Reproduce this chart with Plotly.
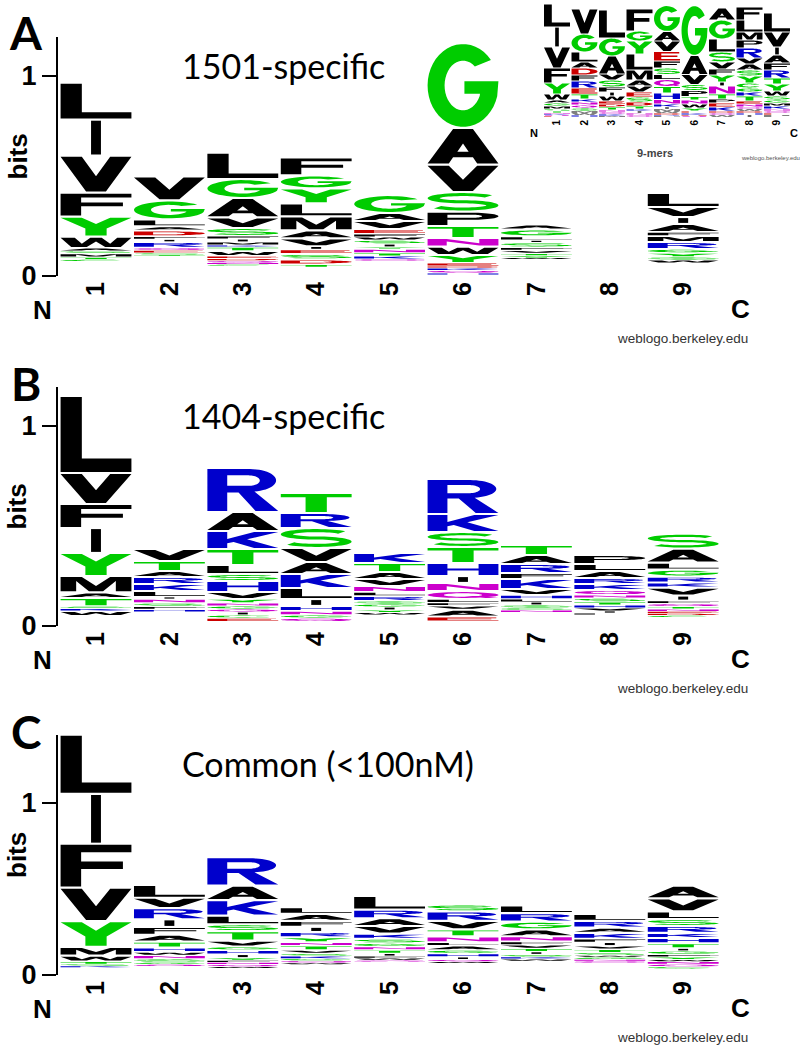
import numpy as np
import plotly.graph_objects as go

W, H = 800, 1046

# ---------------- data (letters listed top -> bottom, heights in bits) ----------------
columns = [1, 2, 3, 4, 5, 6, 7, 8, 9]

# A: 1501-specific
a_letters = ["LIVFYWASMTC", "VGLADFIRQEST", "LGAVSFIMKTWEDQNC", "FGYLMAVIESDT",
             "GAVEFWSIYNTKQ", "GAVSPTNWYEDKQH", "AGLISFVTYW", "", "LVIAFMRGYSW"]
a_bits = [
    [.185, .18, .185, .12, .10, .057, .015, .012, .02, .01, .01],
    [.12, .095, .035, .02, .03, .015, .012, .03, .012, .015, .008, .006],
    [.132, .095, .097, .053, .04, .015, .015, .015, .01, .02, .025, .012, .012, .01, .008, .008],
    [.09, .065, .075, .065, .07, .04, .04, .015, .022, .028, .025, .015],
    [.09, .04, .04, .025, .015, .015, .02, .015, .01, .02, .015, .015, .01],
    [.425, .183, .137, .098, .072, .06, .043, .042, .04, .015, .01, .012, .013, .01],
    [.025, .035, .02, .01, .025, .015, .015, .012, .01, .008],
    [],
    [.07, .05, .035, .04, .02, .03, .035, .02, .02, .015, .015],
]
a_base = [.073, .10, .05, .043, .075, .005, .083, 0, .065]

# B: 1404-specific
b_letters = ["LVFIYMATSKW", "VTARKLINSFH", "RAKTLSHVYNGQICE", "TRSVAKLIHNGQ",
             "KTAVNLRSGIYW", "RKSTHINQLFVAE", "TARFKVHLISGN", "PLARKQNSTHVIF",
             "SALGRKVIFQTNEDC"]
b_bits = [
    [.385, .155, .12, .125, .115, .082, .028, .042, .01, .013, .025],
    [.06, .05, .03, .035, .035, .03, .01, .02, .017, .015, .013],
    [.22, .095, .09, .08, .045, .035, .055, .035, .02, .015, .015, .015, .015, .015, .018],
    [.1, .075, .1, .07, .06, .07, .055, .035, .025, .02, .015, .018],
    [.05, .045, .035, .035, .03, .02, .025, .015, .015, .015, .012, .013],
    [.175, .09, .075, .08, .065, .035, .04, .04, .018, .015, .02, .035, .025],
    [.05, .045, .045, .03, .05, .03, .02, .015, .015, .015, .01, .012],
    [.045, .035, .035, .03, .03, .025, .015, .02, .015, .015, .015, .01, .01],
    [.075, .07, .035, .035, .03, .025, .04, .025, .015, .015, .012, .012, .01, .01, .01],
]
b_base = [.05, .07, .022, .022, .055, .022, .068, .055, .043]

# C: Common (<100nM)
c_letters = ["LIFVYMWTSK", "LVRIFATHWNSGQ", "RAKLSTVGHIYFNQW", "LAFIRYNTVSKGQW",
             "LRAVKSGNTIFWQ", "SRVTNLAGHIQW", "LRGANFVTISKW", "LRAKFIVTSWGNQ",
             "AVLSRKHTIGFYWNQC"]
c_bits = [
    [.345, .29, .255, .195, .15, .05, .035, .015, .01, .01],
    [.075, .06, .065, .045, .045, .04, .035, .025, .02, .02, .02, .012, .012],
    [.165, .085, .09, .05, .04, .055, .035, .02, .025, .02, .015, .012, .012, .012, .01],
    [.04, .04, .035, .03, .03, .03, .02, .025, .02, .015, .015, .012, .012, .01],
    [.08, .05, .045, .045, .03, .025, .02, .02, .02, .015, .012, .012, .01],
    [.04, .055, .05, .04, .035, .02, .025, .02, .02, .015, .012, .01],
    [.045, .05, .045, .04, .03, .02, .02, .02, .015, .015, .012, .012],
    [.04, .04, .03, .035, .02, .02, .02, .02, .015, .012, .012, .01, .011],
    [.075, .075, .045, .04, .04, .03, .03, .03, .015, .02, .015, .015, .012, .015, .015, .012],
]
c_base = [.043, .05, .039, .061, .076, .068, .081, .07, .036]

# inset: all 9-mers
i_letters = ["LIVFYWAGMSTNKQE", "VGLADFRETKNQSMWH", "LGAVSFIWEDTNQKM", "FGYLMAVESDTKINQ",
             "GAVEFSLQTHNKIMWDRP", "GAVSPTNWYEKDQ", "AGLSVFYINTPEKDQW",
             "FLMPRVASYCGKTENQWDHI", "LVIAFRTYWSGMKNQEP"]
i_bits = [
    [.23, .2, .21, .15, .11, .06, .03, .03, .03, .02, .02, .01, .01, .01, .01],
    [.25, .18, .1, .06, .07, .06, .07, .06, .05, .03, .03, .03, .03, .02, .02, .02],
    [.28, .18, .18, .06, .07, .05, .04, .05, .03, .03, .03, .02, .02, .02, .01],
    [.22, .1, .13, .16, .1, .06, .06, .05, .05, .04, .03, .02, .02, .02, .02],
    [.26, .095, .105, .095, .07, .065, .05, .07, .065, .065, .045, .03, .02, .02, .02, .02, .01, .01],
    [.5, .19, .1, .06, .06, .035, .04, .04, .03, .02, .02, .01, .01],
    [.12, .19, .13, .1, .07, .06, .07, .04, .08, .05, .04, .04, .04, .02, .02, .02],
    [.13, .12, .08, .08, .1, .06, .06, .06, .07, .05, .04, .04, .05, .03, .03, .02, .02, .02, .02, .02],
    [.19, .15, .08, .08, .07, .08, .06, .07, .05, .04, .03, .03, .03, .02, .02, .02, .02],
]
i_base = [0, 0, 0, 0, 0, 0, 0, 0, 0]

# weblogo protein colours
colour = {}
for aa in "GSTYC":
    colour[aa] = "#00cc00"
for aa in "NQ":
    colour[aa] = "#cc00cc"
for aa in "KRH":
    colour[aa] = "#0000cc"
for aa in "DE":
    colour[aa] = "#cc0000"


# ---------------- glyph outlines in a unit box ----------------
def ell(cx, cy, rx, ry, a0, a1, n=26):
    t = np.radians(np.linspace(a0, a1, n))
    return list(zip(cx + rx * np.cos(t), cy + ry * np.sin(t)))


def s_outline():
    h = 0.085
    ry = (1 - 2 * h) / 4
    rx = 0.5 - h
    up = ell(0.5, 1 - h - ry, rx, ry, 30, 270, 34)
    lo = ell(0.5, h + ry, rx, ry, 90, -150, 34)
    line = np.array(up + lo[1:])
    d = np.gradient(line, axis=0)
    nrm = np.stack([-d[:, 1], d[:, 0]], axis=1)
    nrm /= np.linalg.norm(nrm, axis=1, keepdims=True)
    return [tuple(p) for p in line + h * nrm] + [tuple(p) for p in (line - h * nrm)[::-1]]


glyphs = {
    "A": ([[(0, 0), (0.36, 1), (0.64, 1), (1, 0), (0.7, 0), (0.64, 0.18), (0.36, 0.18), (0.3, 0)]],
          [[(0.42, 0.34), (0.58, 0.34), (0.5, 0.58)]]),
    "C": ([ell(.5, .5, .5, .5, 40, 320, 40) + ell(.5, .5, .27, .3, -40, -310, 34)], []),
    "D": ([[(0, 0), (0, 1), (0.5, 1)] + ell(.5, .5, .5, .5, 90, -90) + [(0.5, 0)]],
          [[(0.27, 0.19), (0.27, 0.81), (0.48, 0.81)] + ell(.48, .5, .24, .31, 90, -90) + [(0.48, 0.19)]]),
    "E": ([[(0, 0), (1, 0), (1, 0.18), (0.28, 0.18), (0.28, 0.42), (0.9, 0.42), (0.9, 0.59),
            (0.28, 0.59), (0.28, 0.82), (0.97, 0.82), (0.97, 1), (0, 1)]], []),
    "F": ([[(0, 0), (0.29, 0), (0.29, 0.42), (0.88, 0.42), (0.88, 0.6), (0.29, 0.6),
            (0.29, 0.82), (1, 0.82), (1, 1), (0, 1)]], []),
    "G": ([ell(.5, .5, .5, .5, 38, 345, 40) + [(1, 0.55), (0.52, 0.55), (0.52, 0.4), (0.74, 0.4)]
           + ell(.5, .5, .26, .3, -25, -310, 34)], []),
    "H": ([[(0, 0), (0, 1), (0.28, 1), (0.28, 0.6), (0.72, 0.6), (0.72, 1), (1, 1), (1, 0),
            (0.72, 0), (0.72, 0.41), (0.28, 0.41), (0.28, 0)]], []),
    "I": ([[(0.43, 0), (0.57, 0), (0.57, 1), (0.43, 1)]], []),
    "K": ([[(0, 0), (0, 1), (0.28, 1), (0.28, 0.56), (0.66, 1), (1, 1), (0.56, 0.54), (1, 0),
            (0.66, 0), (0.37, 0.38), (0.28, 0.29), (0.28, 0)]], []),
    "L": ([[(0, 0), (1, 0), (1, 0.18), (0.3, 0.18), (0.3, 1), (0, 1)]], []),
    "M": ([[(0, 0), (0, 1), (0.3, 1), (0.5, 0.38), (0.7, 1), (1, 1), (1, 0), (0.78, 0),
            (0.78, 0.72), (0.6, 0), (0.4, 0), (0.22, 0.72), (0.22, 0)]], []),
    "N": ([[(0, 0), (0, 1), (0.27, 1), (0.73, 0.36), (0.73, 1), (1, 1), (1, 0), (0.73, 0),
            (0.27, 0.64), (0.27, 0)]], []),
    "P": ([[(0, 0), (0, 1), (0.62, 1)] + ell(.62, .71, .38, .29, 90, -90) + [(0.28, 0.42), (0.28, 0)]],
          [[(0.28, 0.58), (0.28, 0.84), (0.6, 0.84)] + ell(.6, .71, .17, .13, 90, -90)]),
    "Q": ([ell(.5, .5, .5, .5, 0, 360, 48),
           [(0.52, 0.32), (0.7, 0.32), (1, 0.02), (0.82, 0)]],
          [ell(.5, .5, .27, .3, 0, 360, 40)]),
    "R": ([[(0, 0), (0, 1), (0.6, 1)] + ell(.6, .73, .37, .27, 90, -80)
           + [(1, 0), (0.68, 0), (0.44, 0.44), (0.28, 0.44), (0.28, 0)]],
          [[(0.28, 0.6), (0.28, 0.85), (0.58, 0.85)] + ell(.58, .725, .16, .125, 90, -90)]),
    "S": ([s_outline()], []),
    "T": ([[(0, 1), (1, 1), (1, 0.82), (0.65, 0.82), (0.65, 0), (0.35, 0), (0.35, 0.82), (0, 0.82)]], []),
    "V": ([[(0, 1), (0.3, 1), (0.5, 0.44), (0.7, 1), (1, 1), (0.64, 0), (0.36, 0)]], []),
    "W": ([[(0, 1), (0.2, 1), (0.3, 0.35), (0.42, 1), (0.58, 1), (0.7, 0.35), (0.8, 1), (1, 1),
            (0.85, 0), (0.63, 0), (0.5, 0.6), (0.37, 0), (0.15, 0)]], []),
    "Y": ([[(0, 1), (0.3, 1), (0.5, 0.64), (0.7, 1), (1, 1), (0.65, 0.4), (0.65, 0), (0.35, 0),
            (0.35, 0.4)]], []),
}


def oriented(poly, ccw):
    p = np.array(poly, dtype=float)
    area = np.sum(p[:, 0] * np.roll(p[:, 1], -1) - np.roll(p[:, 0], -1) * p[:, 1])
    if (area > 0) != ccw:
        p = p[::-1]
    return p


def letter_path(ch, x0, x1, y0, y1):
    outers, holes = glyphs[ch]
    parts = []
    for poly, ccw in [(q, True) for q in outers] + [(q, False) for q in holes]:
        p = oriented(poly, ccw)
        xs = x0 + p[:, 0] * (x1 - x0)
        ys = y0 + p[:, 1] * (y1 - y0)
        parts.append("M" + "L".join(f"{a:.4f},{b:.5f}" for a, b in zip(xs, ys)) + "Z")
    return "".join(parts)


shapes = []


def add_logo(letters, bits, base, xref, yref, width, pad):
    for col, seq, hts, b0 in zip(columns, letters, bits, base):
        y = b0 + sum(hts)
        for ch, h in zip(seq, hts):
            p = min(pad, 0.2 * h)
            shapes.append(dict(type="path", xref=xref, yref=yref, layer="above",
                               path=letter_path(ch, col - width / 2, col + width / 2, y - h + p, y - p),
                               fillcolor=colour.get(ch, "#000000"), fillrule="nonzero",
                               line=dict(width=0)))
            y -= h


# ---------------- layout geometry (pixels) ----------------
def py(p):
    return 1 - p / H


def note(x, y, text, font, **kw):
    return dict(x=x / W, y=py(y), xref="paper", yref="paper", text=text, showarrow=False,
                xanchor="center", yanchor="middle", font=font, **kw)


x0_px, x1_px = 58, 770
pitch, first = 73.4, 96
xrange_main = [1 + (x0_px - first) / pitch, 1 + (x1_px - first) / pitch]

panels = [
    # letters, bits, base, zero px, px per bit, axis top px, label, title
    (a_letters, a_bits, a_base, 276, 200, 37, "A", "1501-specific"),
    (b_letters, b_bits, b_base, 626, 200, 387, "B", "1404-specific"),
    (c_letters, c_bits, c_base, 975, 172, 735, "C", "Common (<100nM)"),
]

fig = go.Figure()
layout = dict(width=W, height=H, margin=dict(l=0, r=0, t=0, b=0, pad=0, autoexpand=False),
              paper_bgcolor="white", plot_bgcolor="white", showlegend=False)
annotations = []
tick_font = dict(family="Liberation Sans, Arial", size=25, color="black", weight="bold")
label_font = dict(family="Lato", size=46, color="black", weight="bold")
title_font = dict(family="Lato", size=34, color="black")

for k, (lets, bts, base, zero, scale, top, lab, title) in enumerate(panels, start=1):
    sx = "" if k == 1 else str(k)
    totals = [b + sum(h) for b, h in zip(base, bts)]
    fig.add_trace(go.Scatter(x=columns, y=totals, mode="markers", marker=dict(opacity=0),
                             hoverinfo="skip", xaxis="x" + sx, yaxis="y" + sx))
    layout["xaxis" + sx] = dict(domain=[x0_px / W, x1_px / W], range=xrange_main, anchor="y" + sx,
                                showline=False, showgrid=False, zeroline=False, ticks="",
                                tickvals=columns, ticktext=[str(c) for c in columns],
                                tickangle=-90, tickfont=tick_font, fixedrange=True,
                                automargin=False)
    layout["yaxis" + sx] = dict(domain=[py(zero), py(top)], range=[0, (zero - top) / scale],
                                anchor="x" + sx, showline=True, linecolor="black", linewidth=2,
                                showgrid=False, zeroline=False, ticks="outside", ticklen=14,
                                tickwidth=2, tickcolor="black", tickvals=[0, 1],
                                ticktext=["0", "1"], tickfont=dict(tick_font, size=27),
                                fixedrange=True, automargin=False)
    add_logo(lets, bts, base, "x" + sx, "y" + sx, 0.965, 1.1 / scale)

    annotations += [
        note(26, top - 4, lab, label_font),
        dict(note(180, top + 28, title, title_font), xanchor="left"),
        dict(note(0, (zero + top) / 2, "bits",
                  dict(family="Liberation Sans, Arial", size=26, color="black", weight="bold"),
                  textangle=-90), xanchor="left"),
        note(42, zero + 34, "N", dict(tick_font, size=26)),
        note(740, zero + 33, "C", dict(tick_font, size=26)),
        note(682, zero + 62, "weblogo.berkeley.edu",
             dict(family="Liberation Sans, Arial", size=13.5, color="#333333")),
    ]

# inset (9-mers)
ipitch, ifirst, izero, iscale = 27.5, 557, 117, 100
ix0, ix1 = 535, 800
fig.add_trace(go.Scatter(x=columns, y=[sum(h) for h in i_bits], mode="markers",
                         marker=dict(opacity=0), hoverinfo="skip", xaxis="x4", yaxis="y4"))
layout["xaxis4"] = dict(domain=[ix0 / W, ix1 / W],
                        range=[1 + (ix0 - ifirst) / ipitch, 1 + (ix1 - ifirst) / ipitch],
                        anchor="y4", showline=False, showgrid=False, zeroline=False, ticks="",
                        tickvals=columns, ticktext=[str(c) for c in columns], tickangle=-90,
                        tickfont=dict(tick_font, size=10), fixedrange=True, automargin=False)
layout["yaxis4"] = dict(domain=[py(izero), 1], range=[0, izero / iscale], anchor="x4",
                        visible=False, fixedrange=True, automargin=False)
add_logo(i_letters, i_bits, i_base, "x4", "y4", 0.945, 0.6 / iscale)
annotations += [
    note(534, 133, "N", dict(tick_font, size=11)),
    note(794, 133, "C", dict(tick_font, size=11)),
    note(655, 153, "9-mers",
         dict(family="Liberation Sans, Arial", size=11, color="#444444", weight="bold")),
    note(770, 158, "weblogo.berkeley.edu",
         dict(family="Liberation Sans, Arial", size=6, color="#555555")),
]

layout["shapes"] = shapes
layout["annotations"] = annotations
fig.update_layout(**layout)
# the page's default body margin would offset the 800x1046 figure inside the window
fig.write_html("out.html", config={"displayModeBar": False},
               post_script="document.body.style.margin='0';")
